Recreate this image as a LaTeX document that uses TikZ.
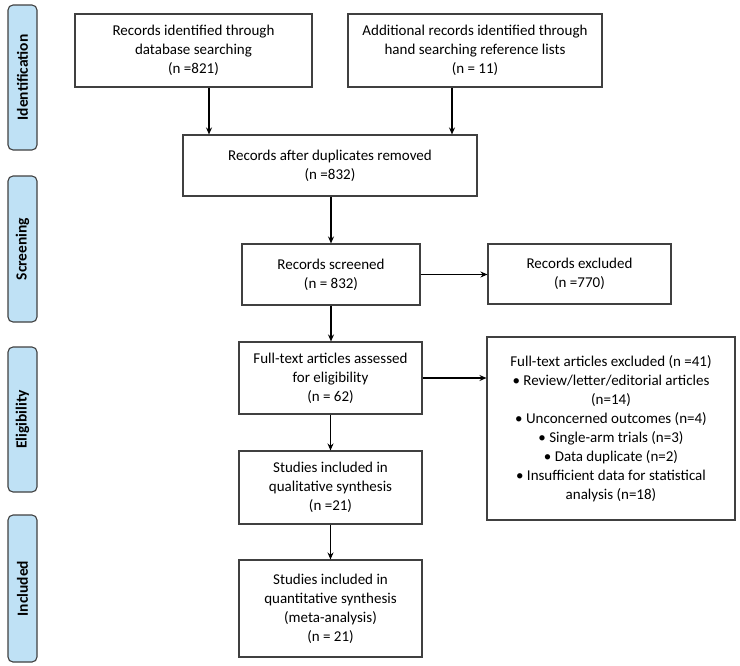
\documentclass[tikz,border=0pt]{standalone}
\usepackage{fontspec}
\setmainfont{Carlito}
\usetikzlibrary{arrows.meta}
\definecolor{sidefill}{HTML}{BFE1F5}
\definecolor{boxline}{HTML}{404040}
\begin{document}
\begin{tikzpicture}[x=1pt,y=-1pt,
  box/.style={draw=boxline,line width=1.1pt,fill=white,align=center,inner sep=2pt,
    font=\fontsize{15}{19}\selectfont},
  side/.style={draw=boxline,line width=1.1pt,fill=sidefill,rounded corners=5pt,
    minimum width=29pt,inner sep=0pt},
  sidetext/.style={rotate=90,font=\fontsize{15.5}{18}\selectfont\bfseries},
  arr/.style={-{Stealth[length=7pt,width=6pt]},line width=1.1pt,black}]
\useasboundingbox (0,0) rectangle (740,665);
% side labels
\node[side,minimum height=145pt] (sI) at (22.5,77.5) {};
\node[sidetext] (tI) at (sI.center) {Identification};
\node[side,minimum height=146pt] (sS) at (22.5,249) {};
\node[sidetext] (tS) at (sS.center) {Screening};
\node[side,minimum height=145pt] (sE) at (22.5,419.5) {};
\node[sidetext] (tE) at (sE.center) {Eligibility};
\node[side,minimum height=147pt] (sN) at (22.5,588.5) {};
\node[sidetext] (tN) at (sN.center) {Included};
% boxes
\node[box,minimum width=237pt,minimum height=73pt] (b1) at (193.5,50.5)
  {Records identified through\\database searching\\(n =821)};
\node[box,minimum width=254pt,minimum height=73pt] (b2) at (475,50.5)
  {Additional records identified through\\hand searching reference lists\\(n = 11)};
\node[box,minimum width=294pt,minimum height=61pt] (b3) at (330,165.5)
  {Records after duplicates removed\\(n =832)};
\node[box,minimum width=178pt,minimum height=61pt] (b4) at (331,274.5)
  {Records screened\\(n = 832)};
\node[box,minimum width=183pt,minimum height=60pt] (x1) at (579.5,274)
  {Records excluded\\(n =770)};
\node[box,minimum width=183pt,minimum height=72pt] (b5) at (330.5,378)
  {Full-text articles assessed\\for eligibility\\(n = 62)};
\node[box,minimum width=248pt,minimum height=183pt] (x2) at (611,428.5)
  {Full-text articles excluded (n =41)\\
   \textbullet\ Review/letter/editorial articles\\(n=14)\\
   \textbullet\ Unconcerned outcomes (n=4)\\
   \textbullet\ Single-arm trials (n=3)\\
   \textbullet\ Data duplicate (n=2)\\
   \textbullet\ Insufficient data for statistical\\analysis (n=18)};
\node[box,minimum width=183pt,minimum height=73pt] (b6) at (330.5,487.5)
  {Studies included in\\qualitative synthesis\\(n =21)};
\node[box,minimum width=183pt,minimum height=97pt] (b7) at (330.5,608.5)
  {Studies included in\\quantitative synthesis\\(meta-analysis)\\(n = 21)};
% arrows
\draw[arr] ([xshift=15.5]b1.south) -- ([xshift=15.5]b1.south |- b3.north);
\draw[arr] ([xshift=-23]b2.south) -- ([xshift=-23]b2.south |- b3.north);
\draw[arr] (b4.north |- b3.south) -- (b4.north);
\draw[arr] (b4.east) -- (b4.east -| x1.west);
\draw[arr] (b4.south) -- (b4.south |- b5.north);
\draw[arr] (b5.east) -- (b5.east -| x2.west);
\draw[arr] (b5.south) -- (b6.north);
\draw[arr] (b6.south) -- (b7.north);
\end{tikzpicture}
\end{document}
